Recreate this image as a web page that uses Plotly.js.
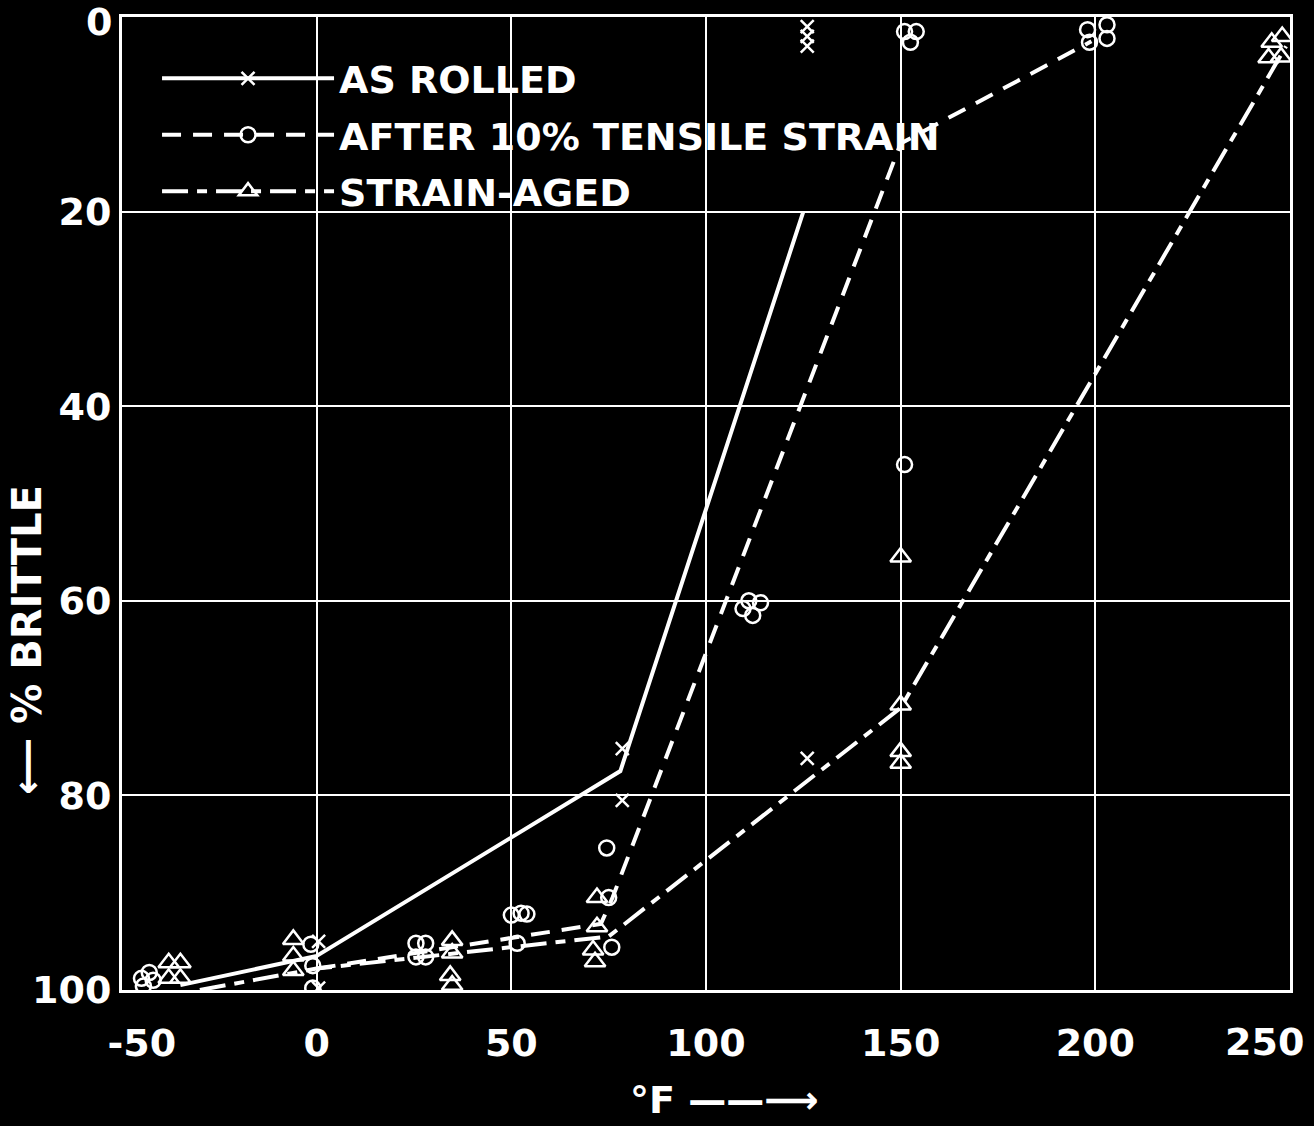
<!DOCTYPE html>
<html>
<head>
<meta charset="utf-8">
<script src="https://cdn.plot.ly/plotly-3.0.1.min.js"></script>
<style>
  html, body { margin: 0; padding: 0; background: #000; }
  #chart { width: 1314px; height: 1126px; }
</style>
</head>
<body>
<div id="chart"></div>
<script>
// ---- data (°F, % brittle) ----
const seriesNames = ["AS ROLLED", "AFTER 10% TENSILE STRAIN", "STRAIN-AGED"];

// fitted curves
const asRolledLineX = [-35, 0, 78, 125];
const asRolledLineY = [99.5, 96.5, 77.5, 20];
const tensileLineX = [0, 73, 76, 150, 199];
const tensileLineY = [97.8, 93.2, 90.5, 13, 2.5];
const agedLineX = [-30, 0, 75, 150, 249];
const agedLineY = [100, 97.8, 94.5, 71, 3];

// test points
const asRolledX = [0.5, 0.5, 78.5, 78.5, 126, 126, 126, 126];
const asRolledY = [95, 99.8, 75.2, 80.5, 76.2, 1, 2, 3];

const tensileX = [-45, -43, -44.5, -42, -1.5, -1, -1, 25.5, 28, 25.5, 28, 50, 52.5, 54, 51.5,
                  74.5, 75, 75.8, 109.5, 112, 114, 111, 151, 151, 154, 152.5, 198, 198.5, 203, 203];
const tensileY = [98.8, 98.2, 99.6, 99, 95.3, 97.5, 99.8, 95.2, 95.2, 96.6, 96.6, 92.3, 92.1, 92.2, 95.2,
                  85.4, 90.5, 95.6, 60.8, 61.5, 60.2, 60, 46, 1.5, 1.5, 2.6, 1.3, 2.6, 0.8, 2.2];

const agedX = [-38, -35, -38, -35, -6, -6, -6, 34.8, 34.8, 34.3, 34.8, 72, 72, 71, 71.5,
               150, 150, 150, 150, 245.3, 244.5, 247.7, 248];
const agedY = [97.2, 97.2, 98.8, 98.8, 94.8, 96.5, 98, 94.9, 96.2, 98.5, 99.5, 90.5, 93.5, 95.9, 97.1,
               55.5, 70.7, 75.5, 76.7, 2.6, 4.2, 4.1, 2];

// axes
const NB = "\u00a0";
const xTickVals = [-50, 0, 50, 100, 150, 200, 250];
const xTickText = [NB + NB + NB + "-50", "0", "50", "100", "150", "200", "250"];
const yTickVals = [0, 20, 40, 60, 80, 100];
const yTickText = ["0", "20", "40", "60", "80", "100"];
const xTitle = "°F ——⟶";
const yTitle = "⟵ % BRITTLE";

// ---- helpers ----
// separate the points with gaps so the marker trace draws no connecting line
function isolate(arr) {
  const out = [];
  arr.forEach((v, i) => { if (i) out.push(null); out.push(v); });
  return out;
}

const WHITE = "#ffffff";
const FONT = "DejaVu Sans, Verdana, sans-serif";
const tickFont = { family: FONT, color: WHITE, size: 38, weight: "bold" };

const styles = [
  { dash: "solid", symbol: "x-thin-open", size: 13 },
  { dash: "19px,12px", symbol: "circle-open", size: 15 },
  { dash: "26px,9px,10px,9px", symbol: "triangle-up-open", size: 18 }
];
const lines = [[asRolledLineX, asRolledLineY], [tensileLineX, tensileLineY], [agedLineX, agedLineY]];
const points = [[asRolledX, asRolledY], [tensileX, tensileY], [agedX, agedY]];

const traces = [];
seriesNames.forEach((name, i) => {
  traces.push({
    type: "scatter", mode: "lines", name: name,
    x: lines[i][0], y: lines[i][1],
    line: { color: WHITE, width: 4, dash: styles[i].dash },
    legendgroup: "g" + i, showlegend: false, hoverinfo: "skip"
  });
  traces.push({
    type: "scatter", mode: "lines+markers", name: name,
    x: isolate(points[i][0]), y: isolate(points[i][1]),
    connectgaps: false,
    line: { color: WHITE, width: 4, dash: styles[i].dash },
    marker: { symbol: styles[i].symbol, size: styles[i].size, color: WHITE,
              line: { color: WHITE, width: 2.5 } },
    legendgroup: "g" + i, showlegend: true, hoverinfo: "skip"
  });
});

// the labels at the frame's top and right ends are lettered inside the page
const lastX = xTickVals.length - 1;
const xAxisText = xTickText.map((t, i) => (i === lastX ? "" : t));
const yAxisText = yTickText.map((t, i) => (i === 0 ? "" : t));

const layout = {
  width: 1314, height: 1126,
  paper_bgcolor: "#000", plot_bgcolor: "#000",
  margin: { l: 122, r: 24, t: 17, b: 136 },
  font: { family: FONT, color: WHITE, size: 34, weight: "bold" },
  showlegend: true,
  legend: {
    x: 0.03, y: 0.969, xanchor: "left", yanchor: "top",
    bgcolor: "rgba(0,0,0,0)", borderwidth: 0,
    itemwidth: 172, traceorder: "grouped", tracegroupgap: 4,
    font: { family: FONT, color: WHITE, size: 38, weight: "bold" }
  },
  xaxis: {
    range: [-50, 250], tickvals: xTickVals, ticktext: xAxisText,
    showgrid: true, gridcolor: WHITE, gridwidth: 2,
    showline: true, linecolor: WHITE, linewidth: 3, mirror: true,
    zeroline: false, ticks: "", ticklabelstandoff: 17, ticklabeloverflow: "allow",
    tickfont: tickFont
  },
  yaxis: {
    range: [100, 0], tickvals: yTickVals, ticktext: yAxisText,
    showgrid: true, gridcolor: WHITE, gridwidth: 2,
    showline: true, linecolor: WHITE, linewidth: 3, mirror: true,
    zeroline: false, ticks: "", ticklabelstandoff: 0, ticklabeloverflow: "allow",
    tickfont: tickFont
  },
  annotations: [
    { text: xTickText[lastX], xref: "x", yref: "paper", x: xTickVals[lastX], y: 0,
      xanchor: "right", yanchor: "middle", xshift: 16, yshift: -52,
      showarrow: false, font: tickFont },
    { text: yTickText[0], xref: "paper", yref: "y", x: 0, y: yTickVals[0],
      xanchor: "right", yanchor: "middle", xshift: -8, yshift: -5,
      showarrow: false, font: tickFont },
    { text: xTitle, xref: "paper", yref: "paper", x: 0.516, y: -0.113,
      xanchor: "center", yanchor: "middle", showarrow: false,
      font: { family: FONT, color: WHITE, size: 38, weight: "bold" } },
    { text: yTitle, xref: "paper", yref: "paper", x: -0.082, y: 0.36,
      xanchor: "center", yanchor: "middle", showarrow: false, textangle: -90,
      font: { family: FONT, color: WHITE, size: 40, weight: "bold" } }
  ],
  hovermode: false
};

Plotly.newPlot("chart", traces, layout, { displayModeBar: false, staticPlot: true });
</script>
</body>
</html>
